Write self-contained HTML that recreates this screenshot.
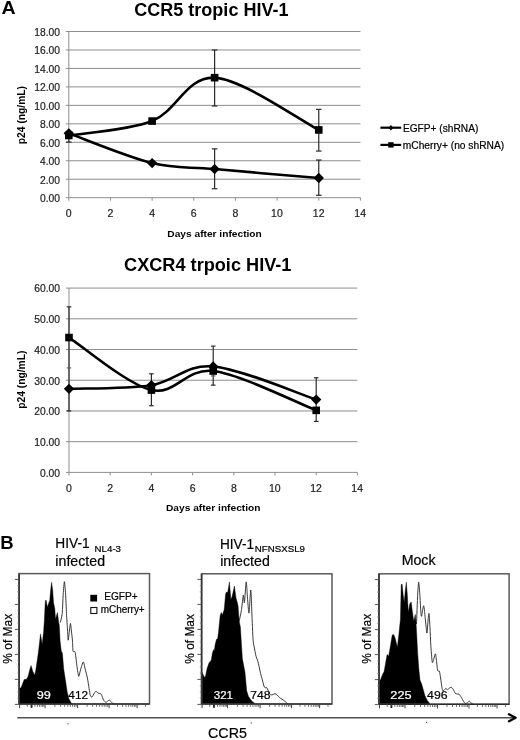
<!DOCTYPE html><html><head><meta charset="utf-8"><style>html,body{margin:0;padding:0;background:#fff;}svg{display:block;will-change:transform;filter:blur(0.3px);}text{font-family:"Liberation Sans", sans-serif;}</style></head><body>
<svg width="520" height="740" viewBox="0 0 520 740">
<rect width="520" height="740" fill="#fff"/>
<text x="1.51" y="13.85" font-size="17.5" font-weight="bold" fill="#000" textLength="14.12" lengthAdjust="spacingAndGlyphs">A</text>
<text x="134.28" y="15.8" font-size="17.5" font-weight="bold" fill="#000" textLength="154.22" lengthAdjust="spacingAndGlyphs">CCR5 tropic HIV-1</text>
<text x="124.07" y="271.3" font-size="17.5" font-weight="bold" fill="#000" textLength="167.36" lengthAdjust="spacingAndGlyphs">CXCR4 trpoic HIV-1</text>
<line x1="65.8" y1="179.23" x2="360.42" y2="179.23" stroke="#8e8e8e" stroke-width="1"/>
<line x1="65.8" y1="160.77" x2="360.42" y2="160.77" stroke="#8e8e8e" stroke-width="1"/>
<line x1="65.8" y1="142.3" x2="360.42" y2="142.3" stroke="#8e8e8e" stroke-width="1"/>
<line x1="65.8" y1="123.84" x2="360.42" y2="123.84" stroke="#8e8e8e" stroke-width="1"/>
<line x1="65.8" y1="105.37" x2="360.42" y2="105.37" stroke="#8e8e8e" stroke-width="1"/>
<line x1="65.8" y1="86.9" x2="360.42" y2="86.9" stroke="#8e8e8e" stroke-width="1"/>
<line x1="65.8" y1="68.44" x2="360.42" y2="68.44" stroke="#8e8e8e" stroke-width="1"/>
<line x1="65.8" y1="49.97" x2="360.42" y2="49.97" stroke="#8e8e8e" stroke-width="1"/>
<line x1="65.8" y1="31.51" x2="360.42" y2="31.51" stroke="#8e8e8e" stroke-width="1"/>
<line x1="68.8" y1="31.51" x2="68.8" y2="197.7" stroke="#8e8e8e" stroke-width="1"/>
<line x1="65.8" y1="197.7" x2="360.42" y2="197.7" stroke="#8e8e8e" stroke-width="1"/>
<line x1="68.8" y1="197.7" x2="68.8" y2="200.7" stroke="#8e8e8e" stroke-width="1"/>
<text x="65.87" y="217" font-size="10.5" fill="#222" stroke="#222" stroke-width="0.2" textLength="5.84" lengthAdjust="spacingAndGlyphs">0</text>
<line x1="110.46" y1="197.7" x2="110.46" y2="200.7" stroke="#8e8e8e" stroke-width="1"/>
<text x="107.55" y="217" font-size="10.5" fill="#222" stroke="#222" stroke-width="0.2" textLength="5.84" lengthAdjust="spacingAndGlyphs">2</text>
<line x1="152.12" y1="197.7" x2="152.12" y2="200.7" stroke="#8e8e8e" stroke-width="1"/>
<text x="149.23" y="217" font-size="10.5" fill="#222" stroke="#222" stroke-width="0.2" textLength="5.84" lengthAdjust="spacingAndGlyphs">4</text>
<line x1="193.78" y1="197.7" x2="193.78" y2="200.7" stroke="#8e8e8e" stroke-width="1"/>
<text x="190.83" y="217" font-size="10.5" fill="#222" stroke="#222" stroke-width="0.2" textLength="5.84" lengthAdjust="spacingAndGlyphs">6</text>
<line x1="235.44" y1="197.7" x2="235.44" y2="200.7" stroke="#8e8e8e" stroke-width="1"/>
<text x="232.53" y="217" font-size="10.5" fill="#222" stroke="#222" stroke-width="0.2" textLength="5.84" lengthAdjust="spacingAndGlyphs">8</text>
<line x1="277.1" y1="197.7" x2="277.1" y2="200.7" stroke="#8e8e8e" stroke-width="1"/>
<text x="271.08" y="217" font-size="10.5" fill="#222" stroke="#222" stroke-width="0.2" textLength="11.68" lengthAdjust="spacingAndGlyphs">10</text>
<line x1="318.76" y1="197.7" x2="318.76" y2="200.7" stroke="#8e8e8e" stroke-width="1"/>
<text x="312.8" y="217" font-size="10.5" fill="#222" stroke="#222" stroke-width="0.2" textLength="11.68" lengthAdjust="spacingAndGlyphs">12</text>
<line x1="360.42" y1="197.7" x2="360.42" y2="200.7" stroke="#8e8e8e" stroke-width="1"/>
<text x="354.34" y="217" font-size="10.5" fill="#222" stroke="#222" stroke-width="0.2" textLength="11.68" lengthAdjust="spacingAndGlyphs">14</text>
<text x="39.95" y="202.1" font-size="10.3" fill="#222" stroke="#222" stroke-width="0.2" textLength="20.05" lengthAdjust="spacingAndGlyphs">0.00</text>
<text x="39.95" y="183.63" font-size="10.3" fill="#222" stroke="#222" stroke-width="0.2" textLength="20.05" lengthAdjust="spacingAndGlyphs">2.00</text>
<text x="39.95" y="165.17" font-size="10.3" fill="#222" stroke="#222" stroke-width="0.2" textLength="20.05" lengthAdjust="spacingAndGlyphs">4.00</text>
<text x="39.95" y="146.7" font-size="10.3" fill="#222" stroke="#222" stroke-width="0.2" textLength="20.05" lengthAdjust="spacingAndGlyphs">6.00</text>
<text x="39.95" y="128.24" font-size="10.3" fill="#222" stroke="#222" stroke-width="0.2" textLength="20.05" lengthAdjust="spacingAndGlyphs">8.00</text>
<text x="34.21" y="109.77" font-size="10.3" fill="#222" stroke="#222" stroke-width="0.2" textLength="25.78" lengthAdjust="spacingAndGlyphs">10.00</text>
<text x="34.21" y="91.3" font-size="10.3" fill="#222" stroke="#222" stroke-width="0.2" textLength="25.78" lengthAdjust="spacingAndGlyphs">12.00</text>
<text x="34.21" y="72.84" font-size="10.3" fill="#222" stroke="#222" stroke-width="0.2" textLength="25.78" lengthAdjust="spacingAndGlyphs">14.00</text>
<text x="34.21" y="54.37" font-size="10.3" fill="#222" stroke="#222" stroke-width="0.2" textLength="25.78" lengthAdjust="spacingAndGlyphs">16.00</text>
<text x="34.21" y="35.91" font-size="10.3" fill="#222" stroke="#222" stroke-width="0.2" textLength="25.78" lengthAdjust="spacingAndGlyphs">18.00</text>
<text transform="translate(24.9,143.5) rotate(-90)" x="-0.67" y="0" font-size="10.4" font-weight="bold" fill="#000" textLength="58.2" lengthAdjust="spacingAndGlyphs">p24 (ng/mL)</text>
<text x="167.31" y="237.2" font-size="9.8" font-weight="bold" fill="#000" textLength="94.5" lengthAdjust="spacingAndGlyphs">Days after infection</text>
<line x1="214.61" y1="148.86" x2="214.61" y2="188.74" stroke="#2a2a2a" stroke-width="1.2"/>
<line x1="211.81" y1="188.74" x2="217.41" y2="188.74" stroke="#2a2a2a" stroke-width="1.2"/>
<line x1="211.81" y1="148.86" x2="217.41" y2="148.86" stroke="#2a2a2a" stroke-width="1.2"/>
<line x1="318.76" y1="160.03" x2="318.76" y2="195.3" stroke="#2a2a2a" stroke-width="1.2"/>
<line x1="315.96" y1="195.3" x2="321.56" y2="195.3" stroke="#2a2a2a" stroke-width="1.2"/>
<line x1="315.96" y1="160.03" x2="321.56" y2="160.03" stroke="#2a2a2a" stroke-width="1.2"/>
<line x1="214.61" y1="49.97" x2="214.61" y2="106.02" stroke="#2a2a2a" stroke-width="1.2"/>
<line x1="211.81" y1="106.02" x2="217.41" y2="106.02" stroke="#2a2a2a" stroke-width="1.2"/>
<line x1="211.81" y1="49.97" x2="217.41" y2="49.97" stroke="#2a2a2a" stroke-width="1.2"/>
<line x1="318.76" y1="109.34" x2="318.76" y2="151.07" stroke="#2a2a2a" stroke-width="1.2"/>
<line x1="315.96" y1="151.07" x2="321.56" y2="151.07" stroke="#2a2a2a" stroke-width="1.2"/>
<line x1="315.96" y1="109.34" x2="321.56" y2="109.34" stroke="#2a2a2a" stroke-width="1.2"/>
<line x1="68.8" y1="133.99" x2="68.8" y2="142.12" stroke="#2a2a2a" stroke-width="1.2"/>
<line x1="66" y1="142.12" x2="71.6" y2="142.12" stroke="#2a2a2a" stroke-width="1.2"/>
<line x1="66" y1="133.99" x2="71.6" y2="133.99" stroke="#2a2a2a" stroke-width="1.2"/>
<path d="M68.8,133.35 C82.69,138.3 127.82,157.12 152.12,163.08 C176.42,169.03 186.84,166.58 214.61,169.08 C242.38,171.57 301.4,176.54 318.76,178.03" fill="none" stroke="#000" stroke-width="2.6" stroke-linejoin="round"/>
<path d="M68.8,128.15 L74,133.35 L68.8,138.55 L63.6,133.35 Z" fill="#000"/>
<path d="M152.12,157.88 L157.32,163.08 L152.12,168.28 L146.92,163.08 Z" fill="#000"/>
<path d="M214.61,163.88 L219.81,169.08 L214.61,174.28 L209.41,169.08 Z" fill="#000"/>
<path d="M318.76,172.83 L323.96,178.03 L318.76,183.23 L313.56,178.03 Z" fill="#000"/>
<path d="M68.8,135.47 C82.69,133.07 127.82,130.7 152.12,121.07 C176.42,111.43 186.84,76.19 214.61,77.67 C242.38,79.15 301.4,121.22 318.76,129.93" fill="none" stroke="#000" stroke-width="2.6" stroke-linejoin="round"/>
<rect x="65" y="131.67" width="7.6" height="7.6" fill="#000"/>
<rect x="148.32" y="117.27" width="7.6" height="7.6" fill="#000"/>
<rect x="210.81" y="73.87" width="7.6" height="7.6" fill="#000"/>
<rect x="314.96" y="126.13" width="7.6" height="7.6" fill="#000"/>
<line x1="380.4" y1="127.7" x2="401.2" y2="127.7" stroke="#000" stroke-width="2.2"/>
<path d="M390.9,125.0 L393.3,127.7 L390.9,130.4 L388.5,127.7 Z" fill="#000"/>
<text x="402.91" y="131.9" font-size="10" fill="#000" stroke="#000" stroke-width="0.2" textLength="75.4" lengthAdjust="spacingAndGlyphs">EGFP+ (shRNA)</text>
<line x1="380.4" y1="144.9" x2="401.2" y2="144.9" stroke="#000" stroke-width="2.2"/>
<rect x="388.2" y="142.2" width="5.4" height="5.4" fill="#000"/>
<text x="402.81" y="149" font-size="10" fill="#000" stroke="#000" stroke-width="0.2" textLength="101.32" lengthAdjust="spacingAndGlyphs">mCherry+ (no shRNA)</text>
<line x1="66" y1="441.68" x2="357.4" y2="441.68" stroke="#8e8e8e" stroke-width="1"/>
<line x1="66" y1="410.96" x2="357.4" y2="410.96" stroke="#8e8e8e" stroke-width="1"/>
<line x1="66" y1="380.24" x2="357.4" y2="380.24" stroke="#8e8e8e" stroke-width="1"/>
<line x1="66" y1="349.52" x2="357.4" y2="349.52" stroke="#8e8e8e" stroke-width="1"/>
<line x1="66" y1="318.8" x2="357.4" y2="318.8" stroke="#8e8e8e" stroke-width="1"/>
<line x1="66" y1="288.08" x2="357.4" y2="288.08" stroke="#8e8e8e" stroke-width="1"/>
<line x1="69" y1="288.08" x2="69" y2="472.4" stroke="#8e8e8e" stroke-width="1"/>
<line x1="66" y1="472.4" x2="357.4" y2="472.4" stroke="#8e8e8e" stroke-width="1"/>
<line x1="69" y1="472.4" x2="69" y2="475.4" stroke="#8e8e8e" stroke-width="1"/>
<text x="66.07" y="491.7" font-size="10.5" fill="#222" stroke="#222" stroke-width="0.2" textLength="5.84" lengthAdjust="spacingAndGlyphs">0</text>
<line x1="110.2" y1="472.4" x2="110.2" y2="475.4" stroke="#8e8e8e" stroke-width="1"/>
<text x="107.29" y="491.7" font-size="10.5" fill="#222" stroke="#222" stroke-width="0.2" textLength="5.84" lengthAdjust="spacingAndGlyphs">2</text>
<line x1="151.4" y1="472.4" x2="151.4" y2="475.4" stroke="#8e8e8e" stroke-width="1"/>
<text x="148.51" y="491.7" font-size="10.5" fill="#222" stroke="#222" stroke-width="0.2" textLength="5.84" lengthAdjust="spacingAndGlyphs">4</text>
<line x1="192.6" y1="472.4" x2="192.6" y2="475.4" stroke="#8e8e8e" stroke-width="1"/>
<text x="189.65" y="491.7" font-size="10.5" fill="#222" stroke="#222" stroke-width="0.2" textLength="5.84" lengthAdjust="spacingAndGlyphs">6</text>
<line x1="233.8" y1="472.4" x2="233.8" y2="475.4" stroke="#8e8e8e" stroke-width="1"/>
<text x="230.89" y="491.7" font-size="10.5" fill="#222" stroke="#222" stroke-width="0.2" textLength="5.84" lengthAdjust="spacingAndGlyphs">8</text>
<line x1="275" y1="472.4" x2="275" y2="475.4" stroke="#8e8e8e" stroke-width="1"/>
<text x="268.98" y="491.7" font-size="10.5" fill="#222" stroke="#222" stroke-width="0.2" textLength="11.68" lengthAdjust="spacingAndGlyphs">10</text>
<line x1="316.2" y1="472.4" x2="316.2" y2="475.4" stroke="#8e8e8e" stroke-width="1"/>
<text x="310.24" y="491.7" font-size="10.5" fill="#222" stroke="#222" stroke-width="0.2" textLength="11.68" lengthAdjust="spacingAndGlyphs">12</text>
<line x1="357.4" y1="472.4" x2="357.4" y2="475.4" stroke="#8e8e8e" stroke-width="1"/>
<text x="351.32" y="491.7" font-size="10.5" fill="#222" stroke="#222" stroke-width="0.2" textLength="11.68" lengthAdjust="spacingAndGlyphs">14</text>
<text x="39.95" y="476.8" font-size="10.3" fill="#222" stroke="#222" stroke-width="0.2" textLength="20.05" lengthAdjust="spacingAndGlyphs">0.00</text>
<text x="34.21" y="446.08" font-size="10.3" fill="#222" stroke="#222" stroke-width="0.2" textLength="25.78" lengthAdjust="spacingAndGlyphs">10.00</text>
<text x="34.21" y="415.36" font-size="10.3" fill="#222" stroke="#222" stroke-width="0.2" textLength="25.78" lengthAdjust="spacingAndGlyphs">20.00</text>
<text x="34.21" y="384.64" font-size="10.3" fill="#222" stroke="#222" stroke-width="0.2" textLength="25.78" lengthAdjust="spacingAndGlyphs">30.00</text>
<text x="34.21" y="353.92" font-size="10.3" fill="#222" stroke="#222" stroke-width="0.2" textLength="25.78" lengthAdjust="spacingAndGlyphs">40.00</text>
<text x="34.21" y="323.2" font-size="10.3" fill="#222" stroke="#222" stroke-width="0.2" textLength="25.78" lengthAdjust="spacingAndGlyphs">50.00</text>
<text x="34.21" y="292.48" font-size="10.3" fill="#222" stroke="#222" stroke-width="0.2" textLength="25.78" lengthAdjust="spacingAndGlyphs">60.00</text>
<text transform="translate(25,408.1) rotate(-90)" x="-0.67" y="0" font-size="10.4" font-weight="bold" fill="#000" textLength="58.2" lengthAdjust="spacingAndGlyphs">p24 (ng/mL)</text>
<text x="166.01" y="510.9" font-size="9.8" font-weight="bold" fill="#000" textLength="94.5" lengthAdjust="spacingAndGlyphs">Days after infection</text>
<line x1="69" y1="306.82" x2="69" y2="410.96" stroke="#2a2a2a" stroke-width="1.2"/>
<line x1="66.7" y1="410.96" x2="71.3" y2="410.96" stroke="#2a2a2a" stroke-width="1.2"/>
<line x1="66.7" y1="306.82" x2="71.3" y2="306.82" stroke="#2a2a2a" stroke-width="1.2"/>
<line x1="151.4" y1="373.79" x2="151.4" y2="405.74" stroke="#2a2a2a" stroke-width="1.2"/>
<line x1="149.1" y1="405.74" x2="153.7" y2="405.74" stroke="#2a2a2a" stroke-width="1.2"/>
<line x1="149.1" y1="373.79" x2="153.7" y2="373.79" stroke="#2a2a2a" stroke-width="1.2"/>
<line x1="213.2" y1="346.14" x2="213.2" y2="385.16" stroke="#2a2a2a" stroke-width="1.2"/>
<line x1="210.9" y1="385.16" x2="215.5" y2="385.16" stroke="#2a2a2a" stroke-width="1.2"/>
<line x1="210.9" y1="346.14" x2="215.5" y2="346.14" stroke="#2a2a2a" stroke-width="1.2"/>
<line x1="316.2" y1="377.78" x2="316.2" y2="421.4" stroke="#2a2a2a" stroke-width="1.2"/>
<line x1="313.9" y1="421.4" x2="318.5" y2="421.4" stroke="#2a2a2a" stroke-width="1.2"/>
<line x1="313.9" y1="377.78" x2="318.5" y2="377.78" stroke="#2a2a2a" stroke-width="1.2"/>
<line x1="66.7" y1="367.95" x2="71.3" y2="367.95" stroke="#555" stroke-width="1"/>
<line x1="210.9" y1="375.94" x2="215.5" y2="375.94" stroke="#555" stroke-width="1"/>
<path d="M69,388.84 C82.73,388.23 127.37,388.89 151.4,385.16 C175.43,381.42 185.73,364.01 213.2,366.42 C240.67,368.82 299.03,394.06 316.2,399.59" fill="none" stroke="#000" stroke-width="2.6" stroke-linejoin="round"/>
<path d="M69,383.64 L74.2,388.84 L69,394.04 L63.8,388.84 Z" fill="#000"/>
<path d="M151.4,379.96 L156.6,385.16 L151.4,390.36 L146.2,385.16 Z" fill="#000"/>
<path d="M213.2,361.22 L218.4,366.42 L213.2,371.62 L208,366.42 Z" fill="#000"/>
<path d="M316.2,394.39 L321.4,399.59 L316.2,404.79 L311,399.59 Z" fill="#000"/>
<path d="M69,337.54 C82.73,346.29 127.37,384.49 151.4,390.07 C175.43,395.65 185.73,367.64 213.2,371.02 C240.67,374.4 299.03,403.79 316.2,410.35" fill="none" stroke="#000" stroke-width="2.6" stroke-linejoin="round"/>
<rect x="65.2" y="333.74" width="7.6" height="7.6" fill="#000"/>
<rect x="147.6" y="386.27" width="7.6" height="7.6" fill="#000"/>
<rect x="209.4" y="367.22" width="7.6" height="7.6" fill="#000"/>
<rect x="312.4" y="406.55" width="7.6" height="7.6" fill="#000"/>
<text x="0.15" y="549.4" font-size="17.5" font-weight="bold" fill="#000" textLength="13.38" lengthAdjust="spacingAndGlyphs">B</text>
<path d="M60.3,622.6 C60.53,621.51 61.85,616.91 62.2,613.5 C62.55,610.09 62.94,598.02 63.2,594.2 C63.46,590.38 64.11,581.7 64.4,581.7 C64.69,581.7 65.35,590.38 65.6,594.2 C65.85,598.02 66.27,609.2 66.5,613.5 C66.73,617.8 67.3,626.8 67.5,630 C67.7,633.2 67.96,640.2 68.2,640.2 C68.44,640.2 69.22,632 69.5,630 C69.78,628 70.26,623.26 70.5,623.5 C70.74,623.74 71.27,630.02 71.5,632 C71.73,633.98 72.22,637.72 72.4,640 C72.58,642.28 72.8,649.62 73,651 C73.2,652.38 73.82,651.3 74.1,651.5 C74.38,651.7 74.95,650.9 75.3,652.7 C75.65,654.5 76.59,663.67 77,666.5 C77.41,669.33 78.28,675.88 78.7,676.3 C79.12,676.72 79.95,671.73 80.5,670 C81.05,668.27 82.75,662.04 83.3,661.9 C83.85,661.76 84.61,666.86 85.1,668.8 C85.59,670.74 86.92,675.74 87.4,678.1 C87.88,680.46 88.75,686.42 89.1,688.5 C89.45,690.58 89.95,694.37 90.3,695.4 C90.65,696.43 91.52,697.38 92,697.1 C92.48,696.82 93.82,693.8 94.3,693.1 C94.78,692.4 95.52,691.3 96,691.3 C96.48,691.3 97.74,692.81 98.3,693.1 C98.86,693.39 100.28,693.42 100.7,693.7 C101.12,693.98 101.46,694.64 101.8,695.4 C102.14,696.16 103.02,699.17 103.5,700 C103.98,700.83 105.31,702.16 105.8,702.3 C106.29,702.44 107.18,701.48 107.6,701.2 C108.02,700.92 108.89,699.94 109.3,700 C109.71,700.06 110.58,701.28 111,701.7 C111.42,702.12 112.31,703.22 112.8,703.5 C113.29,703.78 114.82,703.94 115.1,704" fill="none" stroke="#222" stroke-width="0.9" stroke-linejoin="round"/>
<polygon points="19.1,704 19.1,688.5 21,687.8 24.3,679.3 26.1,679.6 27.9,676.9 30.1,668.4 31.1,665.6 32.8,671.4 34.6,675.1 35.8,670.2 37.1,661.1 38,655 38.8,648.8 40.5,633.8 42.2,644.2 43.6,631.5 44.4,620 45,606 45.4,600.5 46.2,600.2 47.3,607.2 48.75,602.9 49.7,600.5 50.7,589.4 51.6,582.2 52.6,589.4 53.6,602.9 54.8,608.7 55.5,619.2 57.4,612.5 58.65,622.1 59.3,625 60.1,640.8 61.3,651.2 62.4,653 63.7,668.8 65.5,680.4 67.2,691.9 68.9,698.8 71.2,702.9 72.3,704" fill="#000" stroke="#000" stroke-width="0.4" stroke-linejoin="round"/>
<rect x="19.1" y="573.6" width="130.4" height="130.4" fill="none" stroke="#5a5a5a" stroke-width="1.5"/>
<line x1="19.1" y1="704" x2="149.5" y2="704" stroke="#111" stroke-width="1"/>
<line x1="19.1" y1="573.6" x2="19.1" y2="704" stroke="#333" stroke-width="1.6"/>
<line x1="14.9" y1="704.4" x2="19.1" y2="704.4" stroke="#444" stroke-width="0.9"/>
<line x1="17.3" y1="698.15" x2="19.1" y2="698.15" stroke="#777" stroke-width="0.8"/>
<line x1="17.3" y1="691.9" x2="19.1" y2="691.9" stroke="#777" stroke-width="0.8"/>
<line x1="17.3" y1="685.65" x2="19.1" y2="685.65" stroke="#777" stroke-width="0.8"/>
<line x1="14.9" y1="679.4" x2="19.1" y2="679.4" stroke="#444" stroke-width="0.9"/>
<line x1="17.3" y1="673.15" x2="19.1" y2="673.15" stroke="#777" stroke-width="0.8"/>
<line x1="17.3" y1="666.9" x2="19.1" y2="666.9" stroke="#777" stroke-width="0.8"/>
<line x1="17.3" y1="660.65" x2="19.1" y2="660.65" stroke="#777" stroke-width="0.8"/>
<line x1="14.9" y1="654.4" x2="19.1" y2="654.4" stroke="#444" stroke-width="0.9"/>
<line x1="17.3" y1="648.15" x2="19.1" y2="648.15" stroke="#777" stroke-width="0.8"/>
<line x1="17.3" y1="641.9" x2="19.1" y2="641.9" stroke="#777" stroke-width="0.8"/>
<line x1="17.3" y1="635.65" x2="19.1" y2="635.65" stroke="#777" stroke-width="0.8"/>
<line x1="14.9" y1="629.4" x2="19.1" y2="629.4" stroke="#444" stroke-width="0.9"/>
<line x1="17.3" y1="623.15" x2="19.1" y2="623.15" stroke="#777" stroke-width="0.8"/>
<line x1="17.3" y1="616.9" x2="19.1" y2="616.9" stroke="#777" stroke-width="0.8"/>
<line x1="17.3" y1="610.65" x2="19.1" y2="610.65" stroke="#777" stroke-width="0.8"/>
<line x1="14.9" y1="604.4" x2="19.1" y2="604.4" stroke="#444" stroke-width="0.9"/>
<line x1="17.3" y1="598.15" x2="19.1" y2="598.15" stroke="#777" stroke-width="0.8"/>
<line x1="17.3" y1="591.9" x2="19.1" y2="591.9" stroke="#777" stroke-width="0.8"/>
<line x1="17.3" y1="585.65" x2="19.1" y2="585.65" stroke="#777" stroke-width="0.8"/>
<line x1="14.9" y1="579.4" x2="19.1" y2="579.4" stroke="#444" stroke-width="0.9"/>
<rect x="30.6" y="704.6" width="1.8" height="3.2" fill="#111"/>
<line x1="19.6" y1="704" x2="19.6" y2="708.2" stroke="#444" stroke-width="1"/>
<line x1="45.1" y1="704" x2="45.1" y2="708.2" stroke="#444" stroke-width="1"/>
<line x1="77.6" y1="704" x2="77.6" y2="708.2" stroke="#444" stroke-width="1"/>
<line x1="109.1" y1="704" x2="109.1" y2="708.2" stroke="#444" stroke-width="1"/>
<line x1="137.1" y1="704" x2="137.1" y2="708.2" stroke="#444" stroke-width="1"/>
<line x1="27.28" y1="704" x2="27.28" y2="706.8" stroke="#444" stroke-width="0.8"/>
<line x1="31.77" y1="704" x2="31.77" y2="706.8" stroke="#444" stroke-width="0.8"/>
<line x1="34.95" y1="704" x2="34.95" y2="706.8" stroke="#444" stroke-width="0.8"/>
<line x1="37.42" y1="704" x2="37.42" y2="706.8" stroke="#444" stroke-width="0.8"/>
<line x1="39.44" y1="704" x2="39.44" y2="706.8" stroke="#444" stroke-width="0.8"/>
<line x1="41.15" y1="704" x2="41.15" y2="706.8" stroke="#444" stroke-width="0.8"/>
<line x1="42.63" y1="704" x2="42.63" y2="706.8" stroke="#444" stroke-width="0.8"/>
<line x1="43.93" y1="704" x2="43.93" y2="706.8" stroke="#444" stroke-width="0.8"/>
<line x1="54.88" y1="704" x2="54.88" y2="706.8" stroke="#444" stroke-width="0.8"/>
<line x1="60.61" y1="704" x2="60.61" y2="706.8" stroke="#444" stroke-width="0.8"/>
<line x1="64.67" y1="704" x2="64.67" y2="706.8" stroke="#444" stroke-width="0.8"/>
<line x1="67.82" y1="704" x2="67.82" y2="706.8" stroke="#444" stroke-width="0.8"/>
<line x1="70.39" y1="704" x2="70.39" y2="706.8" stroke="#444" stroke-width="0.8"/>
<line x1="72.57" y1="704" x2="72.57" y2="706.8" stroke="#444" stroke-width="0.8"/>
<line x1="74.45" y1="704" x2="74.45" y2="706.8" stroke="#444" stroke-width="0.8"/>
<line x1="76.11" y1="704" x2="76.11" y2="706.8" stroke="#444" stroke-width="0.8"/>
<line x1="87.08" y1="704" x2="87.08" y2="706.8" stroke="#444" stroke-width="0.8"/>
<line x1="92.63" y1="704" x2="92.63" y2="706.8" stroke="#444" stroke-width="0.8"/>
<line x1="96.56" y1="704" x2="96.56" y2="706.8" stroke="#444" stroke-width="0.8"/>
<line x1="99.62" y1="704" x2="99.62" y2="706.8" stroke="#444" stroke-width="0.8"/>
<line x1="102.11" y1="704" x2="102.11" y2="706.8" stroke="#444" stroke-width="0.8"/>
<line x1="104.22" y1="704" x2="104.22" y2="706.8" stroke="#444" stroke-width="0.8"/>
<line x1="106.05" y1="704" x2="106.05" y2="706.8" stroke="#444" stroke-width="0.8"/>
<line x1="107.66" y1="704" x2="107.66" y2="706.8" stroke="#444" stroke-width="0.8"/>
<line x1="117.53" y1="704" x2="117.53" y2="706.8" stroke="#444" stroke-width="0.8"/>
<line x1="122.46" y1="704" x2="122.46" y2="706.8" stroke="#444" stroke-width="0.8"/>
<line x1="125.96" y1="704" x2="125.96" y2="706.8" stroke="#444" stroke-width="0.8"/>
<line x1="128.67" y1="704" x2="128.67" y2="706.8" stroke="#444" stroke-width="0.8"/>
<line x1="130.89" y1="704" x2="130.89" y2="706.8" stroke="#444" stroke-width="0.8"/>
<line x1="132.76" y1="704" x2="132.76" y2="706.8" stroke="#444" stroke-width="0.8"/>
<line x1="134.39" y1="704" x2="134.39" y2="706.8" stroke="#444" stroke-width="0.8"/>
<line x1="135.82" y1="704" x2="135.82" y2="706.8" stroke="#444" stroke-width="0.8"/>
<line x1="145.53" y1="704" x2="145.53" y2="706.8" stroke="#444" stroke-width="0.8"/>
<path d="M239.2,621.2 C239.48,619.81 241.01,612.72 241.5,609.6 C241.99,606.48 242.95,596.03 243.3,595.2 C243.65,594.37 244.05,604.3 244.4,602.7 C244.75,601.1 245.83,582.45 246.2,581.9 C246.57,581.35 247.16,594.36 247.5,598.1 C247.84,601.84 248.6,614.07 249,613.1 C249.4,612.13 250.42,589.03 250.8,590 C251.18,590.97 251.92,615.2 252.2,621.2 C252.48,627.2 252.86,636.92 253.1,640 C253.34,643.08 253.85,644.96 254.2,646.9 C254.55,648.84 255.58,654.53 256,656.2 C256.42,657.87 257.33,659.56 257.7,660.8 C258.07,662.04 258.75,664.98 259.1,666.5 C259.45,668.02 260.22,671.9 260.6,673.5 C260.98,675.1 261.89,678.28 262.3,679.8 C262.71,681.32 263.65,685.23 264,686.2 C264.35,687.17 264.92,687.77 265.2,687.9 C265.48,688.03 266.02,687.17 266.3,687.3 C266.58,687.43 267.08,688.17 267.5,689 C267.92,689.83 269.25,693.5 269.8,694.2 C270.35,694.9 271.48,694.86 272.1,694.8 C272.72,694.74 274.38,693.65 275,693.7 C275.62,693.75 276.75,694.72 277.3,695.2 C277.85,695.68 279.05,697.23 279.6,697.7 C280.15,698.17 281.28,698.68 281.9,699.1 C282.52,699.52 284.1,700.65 284.8,701.2 C285.5,701.75 287.35,703.4 287.7,703.7" fill="none" stroke="#222" stroke-width="0.9" stroke-linejoin="round"/>
<polygon points="201.6,703.8 201.6,671.5 202.6,673.3 204.3,677.3 205.5,676.2 207.2,668.1 209,662.9 211.3,660 212.4,653.1 213.6,649.6 214.2,651.3 215.3,643.8 216.5,639.2 217.6,638.7 218.5,632.3 219.5,622 220.2,615.4 221.3,612.5 222.5,614.8 224.2,609.6 225.6,594 226.3,592.3 227.7,592.3 229.4,581.9 230.9,599.8 232.3,595.8 234.4,586 236,598 237.2,602.1 238.1,606.2 239.2,621.2 240.4,626.9 241.2,640 242.4,658.8 245,672.3 246.7,690.8 248.5,696.5 251.9,701.2 255.4,703.8" fill="#000" stroke="#000" stroke-width="0.4" stroke-linejoin="round"/>
<rect x="201.6" y="573.8" width="130.4" height="130.2" fill="none" stroke="#5a5a5a" stroke-width="1.5"/>
<line x1="201.6" y1="704" x2="332" y2="704" stroke="#111" stroke-width="1"/>
<line x1="201.6" y1="573.8" x2="201.6" y2="704" stroke="#333" stroke-width="1.6"/>
<line x1="197.4" y1="704.4" x2="201.6" y2="704.4" stroke="#444" stroke-width="0.9"/>
<line x1="199.8" y1="698.15" x2="201.6" y2="698.15" stroke="#777" stroke-width="0.8"/>
<line x1="199.8" y1="691.9" x2="201.6" y2="691.9" stroke="#777" stroke-width="0.8"/>
<line x1="199.8" y1="685.65" x2="201.6" y2="685.65" stroke="#777" stroke-width="0.8"/>
<line x1="197.4" y1="679.4" x2="201.6" y2="679.4" stroke="#444" stroke-width="0.9"/>
<line x1="199.8" y1="673.15" x2="201.6" y2="673.15" stroke="#777" stroke-width="0.8"/>
<line x1="199.8" y1="666.9" x2="201.6" y2="666.9" stroke="#777" stroke-width="0.8"/>
<line x1="199.8" y1="660.65" x2="201.6" y2="660.65" stroke="#777" stroke-width="0.8"/>
<line x1="197.4" y1="654.4" x2="201.6" y2="654.4" stroke="#444" stroke-width="0.9"/>
<line x1="199.8" y1="648.15" x2="201.6" y2="648.15" stroke="#777" stroke-width="0.8"/>
<line x1="199.8" y1="641.9" x2="201.6" y2="641.9" stroke="#777" stroke-width="0.8"/>
<line x1="199.8" y1="635.65" x2="201.6" y2="635.65" stroke="#777" stroke-width="0.8"/>
<line x1="197.4" y1="629.4" x2="201.6" y2="629.4" stroke="#444" stroke-width="0.9"/>
<line x1="199.8" y1="623.15" x2="201.6" y2="623.15" stroke="#777" stroke-width="0.8"/>
<line x1="199.8" y1="616.9" x2="201.6" y2="616.9" stroke="#777" stroke-width="0.8"/>
<line x1="199.8" y1="610.65" x2="201.6" y2="610.65" stroke="#777" stroke-width="0.8"/>
<line x1="197.4" y1="604.4" x2="201.6" y2="604.4" stroke="#444" stroke-width="0.9"/>
<line x1="199.8" y1="598.15" x2="201.6" y2="598.15" stroke="#777" stroke-width="0.8"/>
<line x1="199.8" y1="591.9" x2="201.6" y2="591.9" stroke="#777" stroke-width="0.8"/>
<line x1="199.8" y1="585.65" x2="201.6" y2="585.65" stroke="#777" stroke-width="0.8"/>
<line x1="197.4" y1="579.4" x2="201.6" y2="579.4" stroke="#444" stroke-width="0.9"/>
<rect x="213.1" y="704.6" width="1.8" height="3.2" fill="#111"/>
<line x1="202.1" y1="704" x2="202.1" y2="708.2" stroke="#444" stroke-width="1"/>
<line x1="227.6" y1="704" x2="227.6" y2="708.2" stroke="#444" stroke-width="1"/>
<line x1="260.1" y1="704" x2="260.1" y2="708.2" stroke="#444" stroke-width="1"/>
<line x1="291.6" y1="704" x2="291.6" y2="708.2" stroke="#444" stroke-width="1"/>
<line x1="319.6" y1="704" x2="319.6" y2="708.2" stroke="#444" stroke-width="1"/>
<line x1="209.78" y1="704" x2="209.78" y2="706.8" stroke="#444" stroke-width="0.8"/>
<line x1="214.27" y1="704" x2="214.27" y2="706.8" stroke="#444" stroke-width="0.8"/>
<line x1="217.45" y1="704" x2="217.45" y2="706.8" stroke="#444" stroke-width="0.8"/>
<line x1="219.92" y1="704" x2="219.92" y2="706.8" stroke="#444" stroke-width="0.8"/>
<line x1="221.94" y1="704" x2="221.94" y2="706.8" stroke="#444" stroke-width="0.8"/>
<line x1="223.65" y1="704" x2="223.65" y2="706.8" stroke="#444" stroke-width="0.8"/>
<line x1="225.13" y1="704" x2="225.13" y2="706.8" stroke="#444" stroke-width="0.8"/>
<line x1="226.43" y1="704" x2="226.43" y2="706.8" stroke="#444" stroke-width="0.8"/>
<line x1="237.38" y1="704" x2="237.38" y2="706.8" stroke="#444" stroke-width="0.8"/>
<line x1="243.11" y1="704" x2="243.11" y2="706.8" stroke="#444" stroke-width="0.8"/>
<line x1="247.17" y1="704" x2="247.17" y2="706.8" stroke="#444" stroke-width="0.8"/>
<line x1="250.32" y1="704" x2="250.32" y2="706.8" stroke="#444" stroke-width="0.8"/>
<line x1="252.89" y1="704" x2="252.89" y2="706.8" stroke="#444" stroke-width="0.8"/>
<line x1="255.07" y1="704" x2="255.07" y2="706.8" stroke="#444" stroke-width="0.8"/>
<line x1="256.95" y1="704" x2="256.95" y2="706.8" stroke="#444" stroke-width="0.8"/>
<line x1="258.61" y1="704" x2="258.61" y2="706.8" stroke="#444" stroke-width="0.8"/>
<line x1="269.58" y1="704" x2="269.58" y2="706.8" stroke="#444" stroke-width="0.8"/>
<line x1="275.13" y1="704" x2="275.13" y2="706.8" stroke="#444" stroke-width="0.8"/>
<line x1="279.06" y1="704" x2="279.06" y2="706.8" stroke="#444" stroke-width="0.8"/>
<line x1="282.12" y1="704" x2="282.12" y2="706.8" stroke="#444" stroke-width="0.8"/>
<line x1="284.61" y1="704" x2="284.61" y2="706.8" stroke="#444" stroke-width="0.8"/>
<line x1="286.72" y1="704" x2="286.72" y2="706.8" stroke="#444" stroke-width="0.8"/>
<line x1="288.55" y1="704" x2="288.55" y2="706.8" stroke="#444" stroke-width="0.8"/>
<line x1="290.16" y1="704" x2="290.16" y2="706.8" stroke="#444" stroke-width="0.8"/>
<line x1="300.03" y1="704" x2="300.03" y2="706.8" stroke="#444" stroke-width="0.8"/>
<line x1="304.96" y1="704" x2="304.96" y2="706.8" stroke="#444" stroke-width="0.8"/>
<line x1="308.46" y1="704" x2="308.46" y2="706.8" stroke="#444" stroke-width="0.8"/>
<line x1="311.17" y1="704" x2="311.17" y2="706.8" stroke="#444" stroke-width="0.8"/>
<line x1="313.39" y1="704" x2="313.39" y2="706.8" stroke="#444" stroke-width="0.8"/>
<line x1="315.26" y1="704" x2="315.26" y2="706.8" stroke="#444" stroke-width="0.8"/>
<line x1="316.89" y1="704" x2="316.89" y2="706.8" stroke="#444" stroke-width="0.8"/>
<line x1="318.32" y1="704" x2="318.32" y2="706.8" stroke="#444" stroke-width="0.8"/>
<line x1="328.03" y1="704" x2="328.03" y2="706.8" stroke="#444" stroke-width="0.8"/>
<path d="M416.5,624 C416.64,620.42 417.44,599.22 417.7,594.2 C417.96,589.18 418.45,582.2 418.7,582.2 C418.95,582.2 419.55,590.68 419.8,594.2 C420.05,597.72 420.6,608.85 420.8,611.5 C421,614.15 421.27,616.53 421.5,616.3 C421.73,616.07 422.44,610.86 422.7,609.6 C422.96,608.34 423.47,605.57 423.7,605.8 C423.93,606.03 424.32,609.08 424.6,611.5 C424.88,613.92 425.71,623.42 426,626 C426.29,628.58 426.75,633.72 427,633 C427.25,632.28 427.86,622.34 428.1,620 C428.34,617.66 428.77,612.54 429,613.5 C429.23,614.46 429.78,624.22 430,628 C430.22,631.78 430.54,640.93 430.8,645 C431.06,649.07 431.9,660 432.2,661.9 C432.5,663.8 432.92,661.77 433.3,660.8 C433.68,659.83 435.02,653.8 435.4,653.8 C435.78,653.8 436.22,658.78 436.5,660.8 C436.78,662.82 437.35,669.35 437.7,670.6 C438.05,671.85 439.05,670.3 439.4,671.2 C439.75,672.1 440.28,676.02 440.6,678.1 C440.92,680.18 441.82,686.98 442.1,688.5 C442.38,690.02 442.67,690.6 442.9,690.8 C443.13,691 443.65,690.48 444,690.2 C444.35,689.92 445.38,688.57 445.8,688.5 C446.22,688.43 447.09,689.64 447.5,689.6 C447.91,689.56 448.72,688.48 449.2,688.2 C449.68,687.92 451.01,687.13 451.5,687.3 C451.99,687.47 452.86,688.88 453.3,689.6 C453.74,690.32 454.72,692.77 455.2,693.3 C455.68,693.83 456.84,693.89 457.3,694 C457.76,694.11 458.58,693.9 459,694.2 C459.42,694.5 460.31,695.73 460.8,696.5 C461.29,697.27 462.57,699.76 463.1,700.6 C463.63,701.44 464.72,703.22 465.2,703.5 C465.68,703.78 466.6,703.18 467.1,702.9 C467.6,702.62 468.85,701.13 469.4,701.2 C469.95,701.27 471.21,703.13 471.7,703.5 C472.19,703.87 473.28,704.2 473.5,704.3" fill="none" stroke="#222" stroke-width="0.9" stroke-linejoin="round"/>
<polygon points="379,704.3 379,681.5 380.5,679.7 382.5,674.5 384.1,671.6 387.1,654.4 388.7,655.9 390.7,644.3 392.2,635.1 393.7,634.6 395.2,638.2 397.3,647.3 398.8,635.1 399.8,625 400.4,620 401.2,584.6 402.1,584.1 403.1,594.2 404.2,601.9 405.4,589.4 406.3,582.2 407.3,594.2 408.3,612 409.8,603.8 411.2,601.9 412.4,611.5 413.7,621.2 415.3,614.4 416,622.1 416.5,630.4 417.7,653.5 418.8,668.5 420,680 421.7,684 424.9,695.6 427,700 430.2,704.3" fill="#000" stroke="#000" stroke-width="0.4" stroke-linejoin="round"/>
<rect x="379" y="573.8" width="130.1" height="130.4" fill="none" stroke="#5a5a5a" stroke-width="1.5"/>
<line x1="379" y1="704.2" x2="509.1" y2="704.2" stroke="#111" stroke-width="1"/>
<line x1="379" y1="573.8" x2="379" y2="704.2" stroke="#333" stroke-width="1.6"/>
<line x1="374.8" y1="704.6" x2="379" y2="704.6" stroke="#444" stroke-width="0.9"/>
<line x1="377.2" y1="698.35" x2="379" y2="698.35" stroke="#777" stroke-width="0.8"/>
<line x1="377.2" y1="692.1" x2="379" y2="692.1" stroke="#777" stroke-width="0.8"/>
<line x1="377.2" y1="685.85" x2="379" y2="685.85" stroke="#777" stroke-width="0.8"/>
<line x1="374.8" y1="679.6" x2="379" y2="679.6" stroke="#444" stroke-width="0.9"/>
<line x1="377.2" y1="673.35" x2="379" y2="673.35" stroke="#777" stroke-width="0.8"/>
<line x1="377.2" y1="667.1" x2="379" y2="667.1" stroke="#777" stroke-width="0.8"/>
<line x1="377.2" y1="660.85" x2="379" y2="660.85" stroke="#777" stroke-width="0.8"/>
<line x1="374.8" y1="654.6" x2="379" y2="654.6" stroke="#444" stroke-width="0.9"/>
<line x1="377.2" y1="648.35" x2="379" y2="648.35" stroke="#777" stroke-width="0.8"/>
<line x1="377.2" y1="642.1" x2="379" y2="642.1" stroke="#777" stroke-width="0.8"/>
<line x1="377.2" y1="635.85" x2="379" y2="635.85" stroke="#777" stroke-width="0.8"/>
<line x1="374.8" y1="629.6" x2="379" y2="629.6" stroke="#444" stroke-width="0.9"/>
<line x1="377.2" y1="623.35" x2="379" y2="623.35" stroke="#777" stroke-width="0.8"/>
<line x1="377.2" y1="617.1" x2="379" y2="617.1" stroke="#777" stroke-width="0.8"/>
<line x1="377.2" y1="610.85" x2="379" y2="610.85" stroke="#777" stroke-width="0.8"/>
<line x1="374.8" y1="604.6" x2="379" y2="604.6" stroke="#444" stroke-width="0.9"/>
<line x1="377.2" y1="598.35" x2="379" y2="598.35" stroke="#777" stroke-width="0.8"/>
<line x1="377.2" y1="592.1" x2="379" y2="592.1" stroke="#777" stroke-width="0.8"/>
<line x1="377.2" y1="585.85" x2="379" y2="585.85" stroke="#777" stroke-width="0.8"/>
<line x1="374.8" y1="579.6" x2="379" y2="579.6" stroke="#444" stroke-width="0.9"/>
<rect x="390.5" y="704.8" width="1.8" height="3.2" fill="#111"/>
<line x1="379.5" y1="704.2" x2="379.5" y2="708.4" stroke="#444" stroke-width="1"/>
<line x1="405" y1="704.2" x2="405" y2="708.4" stroke="#444" stroke-width="1"/>
<line x1="437.5" y1="704.2" x2="437.5" y2="708.4" stroke="#444" stroke-width="1"/>
<line x1="469" y1="704.2" x2="469" y2="708.4" stroke="#444" stroke-width="1"/>
<line x1="497" y1="704.2" x2="497" y2="708.4" stroke="#444" stroke-width="1"/>
<line x1="387.18" y1="704.2" x2="387.18" y2="707" stroke="#444" stroke-width="0.8"/>
<line x1="391.67" y1="704.2" x2="391.67" y2="707" stroke="#444" stroke-width="0.8"/>
<line x1="394.85" y1="704.2" x2="394.85" y2="707" stroke="#444" stroke-width="0.8"/>
<line x1="397.32" y1="704.2" x2="397.32" y2="707" stroke="#444" stroke-width="0.8"/>
<line x1="399.34" y1="704.2" x2="399.34" y2="707" stroke="#444" stroke-width="0.8"/>
<line x1="401.05" y1="704.2" x2="401.05" y2="707" stroke="#444" stroke-width="0.8"/>
<line x1="402.53" y1="704.2" x2="402.53" y2="707" stroke="#444" stroke-width="0.8"/>
<line x1="403.83" y1="704.2" x2="403.83" y2="707" stroke="#444" stroke-width="0.8"/>
<line x1="414.78" y1="704.2" x2="414.78" y2="707" stroke="#444" stroke-width="0.8"/>
<line x1="420.51" y1="704.2" x2="420.51" y2="707" stroke="#444" stroke-width="0.8"/>
<line x1="424.57" y1="704.2" x2="424.57" y2="707" stroke="#444" stroke-width="0.8"/>
<line x1="427.72" y1="704.2" x2="427.72" y2="707" stroke="#444" stroke-width="0.8"/>
<line x1="430.29" y1="704.2" x2="430.29" y2="707" stroke="#444" stroke-width="0.8"/>
<line x1="432.47" y1="704.2" x2="432.47" y2="707" stroke="#444" stroke-width="0.8"/>
<line x1="434.35" y1="704.2" x2="434.35" y2="707" stroke="#444" stroke-width="0.8"/>
<line x1="436.01" y1="704.2" x2="436.01" y2="707" stroke="#444" stroke-width="0.8"/>
<line x1="446.98" y1="704.2" x2="446.98" y2="707" stroke="#444" stroke-width="0.8"/>
<line x1="452.53" y1="704.2" x2="452.53" y2="707" stroke="#444" stroke-width="0.8"/>
<line x1="456.46" y1="704.2" x2="456.46" y2="707" stroke="#444" stroke-width="0.8"/>
<line x1="459.52" y1="704.2" x2="459.52" y2="707" stroke="#444" stroke-width="0.8"/>
<line x1="462.01" y1="704.2" x2="462.01" y2="707" stroke="#444" stroke-width="0.8"/>
<line x1="464.12" y1="704.2" x2="464.12" y2="707" stroke="#444" stroke-width="0.8"/>
<line x1="465.95" y1="704.2" x2="465.95" y2="707" stroke="#444" stroke-width="0.8"/>
<line x1="467.56" y1="704.2" x2="467.56" y2="707" stroke="#444" stroke-width="0.8"/>
<line x1="477.43" y1="704.2" x2="477.43" y2="707" stroke="#444" stroke-width="0.8"/>
<line x1="482.36" y1="704.2" x2="482.36" y2="707" stroke="#444" stroke-width="0.8"/>
<line x1="485.86" y1="704.2" x2="485.86" y2="707" stroke="#444" stroke-width="0.8"/>
<line x1="488.57" y1="704.2" x2="488.57" y2="707" stroke="#444" stroke-width="0.8"/>
<line x1="490.79" y1="704.2" x2="490.79" y2="707" stroke="#444" stroke-width="0.8"/>
<line x1="492.66" y1="704.2" x2="492.66" y2="707" stroke="#444" stroke-width="0.8"/>
<line x1="494.29" y1="704.2" x2="494.29" y2="707" stroke="#444" stroke-width="0.8"/>
<line x1="495.72" y1="704.2" x2="495.72" y2="707" stroke="#444" stroke-width="0.8"/>
<line x1="505.43" y1="704.2" x2="505.43" y2="707" stroke="#444" stroke-width="0.8"/>
<text x="55.37" y="548.4" font-size="14.3" fill="#000" stroke="#000" stroke-width="0.2" textLength="34.3" lengthAdjust="spacingAndGlyphs">HIV-1</text>
<text x="94.6" y="551.7" font-size="9.3" fill="#000" stroke="#000" stroke-width="0.2" textLength="26.42" lengthAdjust="spacingAndGlyphs">NL4-3</text>
<text x="55.34" y="565.6" font-size="14.3" fill="#000" stroke="#000" stroke-width="0.2" textLength="49.75" lengthAdjust="spacingAndGlyphs">infected</text>
<text x="219.98" y="548.7" font-size="14.3" fill="#000" stroke="#000" stroke-width="0.2" textLength="34.09" lengthAdjust="spacingAndGlyphs">HIV-1</text>
<text x="254.8" y="552.4" font-size="8.6" fill="#000" stroke="#000" stroke-width="0.2" textLength="50.15" lengthAdjust="spacingAndGlyphs">NFNSXSL9</text>
<text x="220.14" y="565.6" font-size="14.3" fill="#000" stroke="#000" stroke-width="0.2" textLength="49.64" lengthAdjust="spacingAndGlyphs">infected</text>
<text x="401.63" y="565.4" font-size="14.3" fill="#000" stroke="#000" stroke-width="0.2" textLength="33.96" lengthAdjust="spacingAndGlyphs">Mock</text>
<text transform="translate(11.7,663.3) rotate(-90)" x="-0.42" y="0" font-size="12.6" fill="#000" stroke="#000" stroke-width="0.2" textLength="49.98" lengthAdjust="spacingAndGlyphs">% of Max</text>
<text transform="translate(194.3,663.3) rotate(-90)" x="-0.42" y="0" font-size="12.6" fill="#000" stroke="#000" stroke-width="0.2" textLength="49.57" lengthAdjust="spacingAndGlyphs">% of Max</text>
<text transform="translate(371.4,663.3) rotate(-90)" x="-0.42" y="0" font-size="12.6" fill="#000" stroke="#000" stroke-width="0.2" textLength="49.98" lengthAdjust="spacingAndGlyphs">% of Max</text>
<rect x="90.3" y="594.8" width="6.8" height="6.7" fill="#000"/>
<text x="104.16" y="600" font-size="10" fill="#000" stroke="#000" stroke-width="0.2" textLength="33.54" lengthAdjust="spacingAndGlyphs">EGFP+</text>
<rect x="90.8" y="607.5" width="6.1" height="6.0" fill="#fff" stroke="#111" stroke-width="1.1"/>
<text x="100.73" y="613.3" font-size="10" fill="#000" stroke="#000" stroke-width="0.2" textLength="43.97" lengthAdjust="spacingAndGlyphs">mCherry+</text>
<text x="36.7" y="698.8" font-size="11.4" fill="#fff" stroke="#fff" stroke-width="0.2" textLength="14.1" lengthAdjust="spacingAndGlyphs">99</text>
<text x="68.33" y="698.8" font-size="11.4" fill="#000" stroke="#000" stroke-width="0.2" textLength="19.77" lengthAdjust="spacingAndGlyphs">412</text>
<text x="213.77" y="698.8" font-size="11.4" fill="#fff" stroke="#fff" stroke-width="0.2" textLength="19.29" lengthAdjust="spacingAndGlyphs">321</text>
<text x="250.19" y="698.8" font-size="11.4" fill="#000" stroke="#000" stroke-width="0.2" textLength="20.34" lengthAdjust="spacingAndGlyphs">748</text>
<text x="390.36" y="698.8" font-size="11.4" fill="#fff" stroke="#fff" stroke-width="0.2" textLength="21.26" lengthAdjust="spacingAndGlyphs">225</text>
<text x="427.12" y="698.8" font-size="11.4" fill="#000" stroke="#000" stroke-width="0.2" textLength="20.51" lengthAdjust="spacingAndGlyphs">496</text>
<line x1="17.3" y1="717.8" x2="514" y2="717.8" stroke="#505050" stroke-width="1.5"/>
<path d="M509,714.3 L515.6,717.8 L509,721.3" fill="none" stroke="#000" stroke-width="2.3" stroke-linecap="round" stroke-linejoin="round"/>
<text x="208.09" y="738.2" font-size="14" fill="#000" stroke="#000" stroke-width="0.2" textLength="38.79" lengthAdjust="spacingAndGlyphs">CCR5</text>
<rect x="67.5" y="723.2" width="1.2" height="1.2" fill="#555"/>
<rect x="250.6" y="722.4" width="1.2" height="1.2" fill="#555"/>
<rect x="426" y="721.8" width="1.2" height="1.2" fill="#555"/>
</svg></body></html>
